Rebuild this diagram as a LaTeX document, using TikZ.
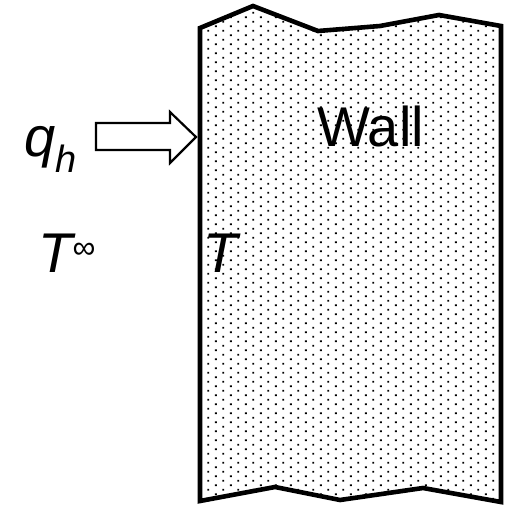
\documentclass[tikz,border=0pt]{standalone}
\usepackage{fontspec}
\setmainfont{Liberation Sans}
\usetikzlibrary{patterns}

\pgfdeclarepatternformonly{walldots}{\pgfpointorigin}{\pgfpoint{15.4pt}{9.4pt}}{\pgfpoint{15.4pt}{9.4pt}}{%
  \pgfpathrectangle{\pgfpoint{1pt}{1pt}}{\pgfpoint{1.9pt}{1.9pt}}%
  \pgfpathrectangle{\pgfpoint{8.7pt}{5.7pt}}{\pgfpoint{1.9pt}{1.9pt}}%
  \pgfusepath{fill}}

\begin{document}
\begin{tikzpicture}[x=1pt,y=-1pt,
  wall/.style={line width=4.6pt, line join=miter, pattern=walldots},
  heat/.style={draw, line width=2.2pt, fill=white, line join=miter},
  lbl/.style={anchor=base west, inner sep=0pt, font=\fontsize{56}{56}\selectfont}]
\useasboundingbox (0,0) rectangle (508,505);
% wall body
\draw[wall] (200,28) -- (253,6) -- (318,31) -- (380,26) -- (439,15) -- (501,26)
  -- (501,502) -- (423,488) -- (340,500) -- (275,487) -- (200,501) -- cycle;
% heat flux arrow
\draw[heat] (96,123) -- (170,123) -- (170,112) -- (196,137) -- (170,163) -- (170,150) -- (96,150) -- cycle;
\node[lbl] (qlabel) at (24,157) {\itshape q\raisebox{-16pt}{\fontsize{38}{38}\selectfont h}};
\node[lbl] (tinf) at (38,272) {\itshape T\raisebox{14pt}{\fontsize{32}{32}\selectfont ∞}};
\node[lbl] (twall) at (203,272) {\itshape T};
\node[lbl] (walllabel) at (317,147) {Wall};
\end{tikzpicture}
\end{document}
